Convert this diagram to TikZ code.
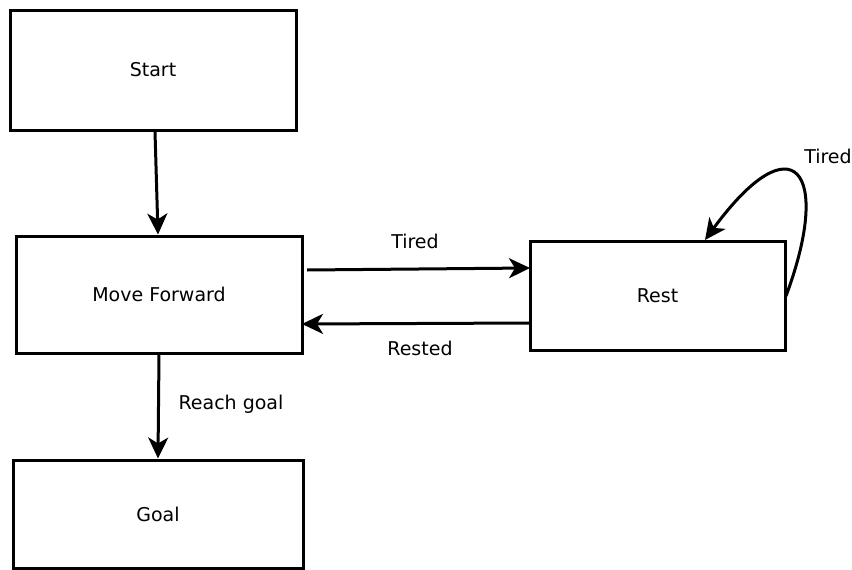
\documentclass[tikz,border=0pt]{standalone}
\usepackage{fontspec}
\setmainfont{DejaVu Sans}
\usetikzlibrary{arrows.meta}
\begin{document}
\begin{tikzpicture}[x=1pt,y=-1pt,
  state/.style={draw,line width=3pt,minimum width=#1,inner sep=0pt,
    font=\fontsize{19}{22}\selectfont},
  link/.style={line width=3pt,-{Stealth[length=21pt,width=20pt,inset=6pt]}},
  lbl/.style={font=\fontsize{19}{22}\selectfont}]
\useasboundingbox (0,0) rectangle (852,570);
% states
\node[state=286pt,minimum height=120pt] (start) at (153,70) {Start};
\node[state=286pt,minimum height=117pt] (move) at (159,294.5) {Move Forward};
\node[state=290pt,minimum height=108pt] (goal) at (158,514) {Goal};
\node[state=255pt,minimum height=109pt] (rest) at (657.5,295.5) {Rest};
% connector ends
\coordinate (tiredA) at (307,270);
\coordinate (tiredB) at (530,268);
\coordinate (restedA) at (530,323);
\coordinate (restedB) at (302,324);
\coordinate (loopA) at (786,296);
\coordinate (loopB) at (705,240);
% transitions
\draw[link] (start.south -| 155,0) -- (move.north -| 158,0);
\draw[link] (move.south) -- (goal.north);
\draw[link] (tiredA) -- (tiredB);
\draw[link] (restedA) -- (restedB);
\draw[link] (loopA) .. controls (833,170) and (793,120) .. (loopB);
% labels
\node[lbl] (lt) at (415,241) {Tired};
\node[lbl] (lr) at (420,348) {Rested};
\node[lbl] (lg) at (231,404) {Reach goal};
\node[lbl] (ll) at (828,156) {Tired};
\end{tikzpicture}
\end{document}
